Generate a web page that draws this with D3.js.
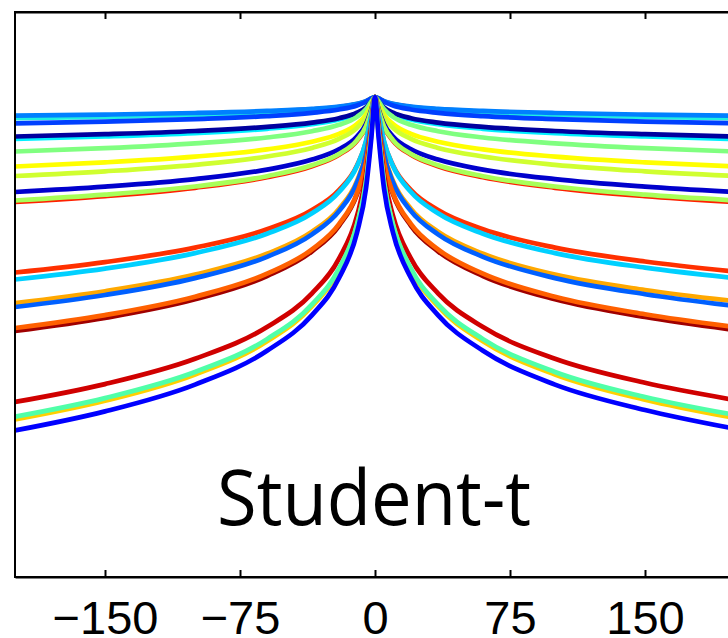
<!DOCTYPE html>
<html lang="en">
<head>
<meta charset="UTF-8">
<title>Student-t</title>
<script src="https://d3js.org/d3.v7.min.js"></script>
<style>
  body { margin: 0; background: #fff; }
  .xaxis text { font-family: "Liberation Sans", Arial, sans-serif; font-size: 47px; fill: #000; }
  .xaxis line, .xaxis path { stroke: #000; stroke-width: 2px; }
  .label { font-family: "Open Sans", "Noto Sans", sans-serif; font-size: 77px; fill: #000; }
</style>
</head>
<body>
<div id="chart"></div>
<script>
var xVals = [-200, -150, -100, -60, -35, -20, -10, -5, -2, 0, 2, 5, 10, 20, 35, 60, 100, 150, 200];
var xTicks = [-150, -75, 0, 75, 150];

// log densities (peak = 0), one array per curve, in drawing order
var s01 = [-2.00, -1.87, -1.70, -1.48, -1.24, -1.00, -0.71, -0.43, -0.15, 0, -0.15, -0.43, -0.71, -1.00, -1.24, -1.48, -1.70, -1.87, -2.00];
var s02 = [-2.12, -1.99, -1.80, -1.56, -1.32, -1.06, -0.75, -0.46, -0.16, 0, -0.16, -0.46, -0.75, -1.06, -1.32, -1.56, -1.80, -1.99, -2.12];
var s03 = [-1.87, -1.76, -1.60, -1.39, -1.18, -0.95, -0.68, -0.42, -0.15, 0, -0.15, -0.42, -0.68, -0.95, -1.18, -1.39, -1.60, -1.76, -1.87];
var s04 = [-2.63, -2.46, -2.21, -1.91, -1.58, -1.25, -0.85, -0.48, -0.15, 0, -0.15, -0.48, -0.85, -1.25, -1.58, -1.91, -2.21, -2.46, -2.63];
var s05 = [-4.20, -3.95, -3.61, -3.18, -2.72, -2.25, -1.67, -1.11, -0.47, 0, -0.47, -1.11, -1.67, -2.25, -2.72, -3.18, -3.61, -3.95, -4.20];
var s06 = [-3.95, -3.72, -3.40, -2.99, -2.56, -2.12, -1.57, -1.04, -0.44, 0, -0.44, -1.04, -1.57, -2.12, -2.56, -2.99, -3.40, -3.72, -3.95];
var s07 = [-5.45, -5.12, -4.64, -4.05, -3.42, -2.78, -1.98, -1.23, -0.45, 0, -0.45, -1.23, -1.98, -2.78, -3.42, -4.05, -4.64, -5.12, -5.45];
var s08 = [-6.95, -6.54, -5.96, -5.24, -4.47, -3.68, -2.71, -1.77, -0.73, 0, -0.73, -1.77, -2.71, -3.68, -4.47, -5.24, -5.96, -6.54, -6.95];
var s09 = [-7.90, -7.43, -6.78, -5.95, -5.09, -4.19, -3.08, -2.01, -0.82, 0, -0.82, -2.01, -3.08, -4.19, -5.09, -5.95, -6.78, -7.43, -7.90];
var s10 = [-9.50, -8.96, -8.21, -7.26, -6.26, -5.23, -3.95, -2.70, -1.23, 0, -1.23, -2.70, -3.95, -5.23, -6.26, -7.26, -8.21, -8.96, -9.50];
var s11 = [-10.50, -9.91, -9.08, -8.03, -6.93, -5.78, -4.37, -2.98, -1.36, 0, -1.36, -2.98, -4.37, -5.78, -6.93, -8.03, -9.08, -9.91, -10.50];
var s12 = [-10.35, -9.77, -8.95, -7.92, -6.83, -5.70, -4.31, -2.94, -1.34, 0, -1.34, -2.94, -4.31, -5.70, -6.83, -7.92, -8.95, -9.77, -10.35];
var s13 = [-17.55, -16.51, -15.06, -13.23, -11.30, -9.30, -6.84, -4.47, -1.83, 0, -1.83, -4.47, -6.84, -9.30, -11.30, -13.23, -15.06, -16.45, -17.47];
var s14 = [-18.25, -17.16, -15.61, -13.67, -11.63, -9.50, -6.90, -4.41, -1.72, 0, -1.72, -4.41, -6.90, -9.50, -11.63, -13.67, -15.61, -17.06, -18.10];
var s15 = [-20.60, -19.42, -17.76, -15.67, -13.47, -11.19, -8.38, -5.64, -2.48, 0, -2.48, -5.64, -8.38, -11.19, -13.47, -15.67, -17.76, -19.30, -20.42];
var s16 = [-21.00, -19.80, -18.11, -15.98, -13.73, -11.41, -8.54, -5.75, -2.53, 0, -2.53, -5.75, -8.54, -11.41, -13.73, -15.98, -18.11, -19.72, -20.90];
var s17 = [-23.40, -22.09, -20.23, -17.90, -15.43, -12.88, -9.73, -6.66, -3.04, 0, -3.04, -6.66, -9.73, -12.88, -15.43, -17.90, -20.23, -22.00, -23.30];
var s18 = [-23.10, -21.81, -19.97, -17.67, -15.23, -12.71, -9.61, -6.57, -3.00, 0, -3.00, -6.57, -9.61, -12.71, -15.23, -17.67, -19.97, -21.72, -23.00];
var s19 = [-30.50, -28.71, -26.18, -23.00, -19.64, -16.16, -11.89, -7.77, -3.19, 0, -3.19, -7.77, -11.89, -16.16, -19.64, -23.00, -26.18, -28.58, -30.30];
var s20 = [-32.25, -30.38, -27.75, -24.43, -20.93, -17.30, -12.84, -8.52, -3.61, 0, -3.61, -8.52, -12.84, -17.30, -20.93, -24.43, -27.75, -30.27, -32.10];
var s21 = [-31.97, -30.11, -27.50, -24.21, -20.74, -17.15, -12.73, -8.45, -3.58, 0, -3.58, -8.45, -12.73, -17.15, -20.74, -24.21, -27.50, -30.00, -31.80];
var s22 = [-33.35, -31.44, -28.76, -25.38, -21.81, -18.11, -13.56, -9.14, -4.02, 0, -4.02, -9.14, -13.56, -18.11, -21.81, -25.38, -28.76, -31.30, -33.18];

var allSeries = [s01, s02, s03, s04, s05, s06, s07, s08, s09, s10, s11,
                 s12, s13, s14, s15, s16, s17, s18, s19, s20, s21, s22];

// jet-like colours, same order as allSeries
var lineColors = ["#a00000", "#20f0e0", "#0080ff", "#0040ff", "#00f0ff", "#00009f",
                  "#80ff80", "#ffff00", "#d0ff30", "#0000cc", "#ff2000", "#a8ff58",
                  "#ff3000", "#00d0ff", "#ffa800", "#0060ff", "#a00000", "#ff6000",
                  "#d00000", "#ffd000", "#50ffa8", "#0000ff"];

var W = 728, H = 638;
var margin = { top: 12, left: 15 };
var plotW = 720, plotH = 565;

var svg = d3.select("#chart").append("svg")
    .attr("width", W)
    .attr("height", H);

var x = d3.scaleLinear().domain([-200, 200]).range([margin.left, margin.left + plotW]);
var y = d3.scaleLinear().domain([-48, 8.5]).range([margin.top + plotH, margin.top]);

svg.append("defs").append("clipPath").attr("id", "clip")
    .append("rect")
    .attr("x", margin.left).attr("y", margin.top)
    .attr("width", plotW).attr("height", plotH);

var line = d3.line()
    .x(function (d, i) { return x(xVals[i]); })
    .y(function (d) { return y(d); })
    .curve(d3.curveMonotoneX);

svg.append("g")
    .attr("clip-path", "url(#clip)")
    .selectAll("path")
    .data(allSeries)
    .join("path")
    .attr("fill", "none")
    .attr("stroke", function (d, i) { return lineColors[i]; })
    .attr("stroke-width", 4.7)
    .attr("stroke-linejoin", "round")
    .attr("d", line);

// frame
svg.append("rect")
    .attr("x", margin.left).attr("y", margin.top)
    .attr("width", plotW).attr("height", plotH)
    .attr("fill", "none")
    .attr("stroke", "#000")
    .attr("stroke-width", 2);

// bottom axis, ticks pointing inward
var xAxis = svg.append("g")
    .attr("class", "xaxis")
    .attr("transform", "translate(0," + (margin.top + plotH) + ")")
    .call(d3.axisBottom(x).tickValues(xTicks).tickSizeInner(-7).tickSizeOuter(0));
xAxis.selectAll("text").attr("y", 57).attr("dy", 0);

// top axis, ticks only
svg.append("g")
    .attr("class", "xaxis")
    .attr("transform", "translate(0," + margin.top + ")")
    .call(d3.axisTop(x).tickValues(xTicks).tickSizeInner(-7).tickSizeOuter(0).tickFormat(""));

svg.append("text")
    .attr("class", "label")
    .attr("x", 374)
    .attr("y", 525)
    .attr("text-anchor", "middle")
    .attr("textLength", 314)
    .attr("lengthAdjust", "spacingAndGlyphs")
    .text("Student-t");
</script>
</body>
</html>
